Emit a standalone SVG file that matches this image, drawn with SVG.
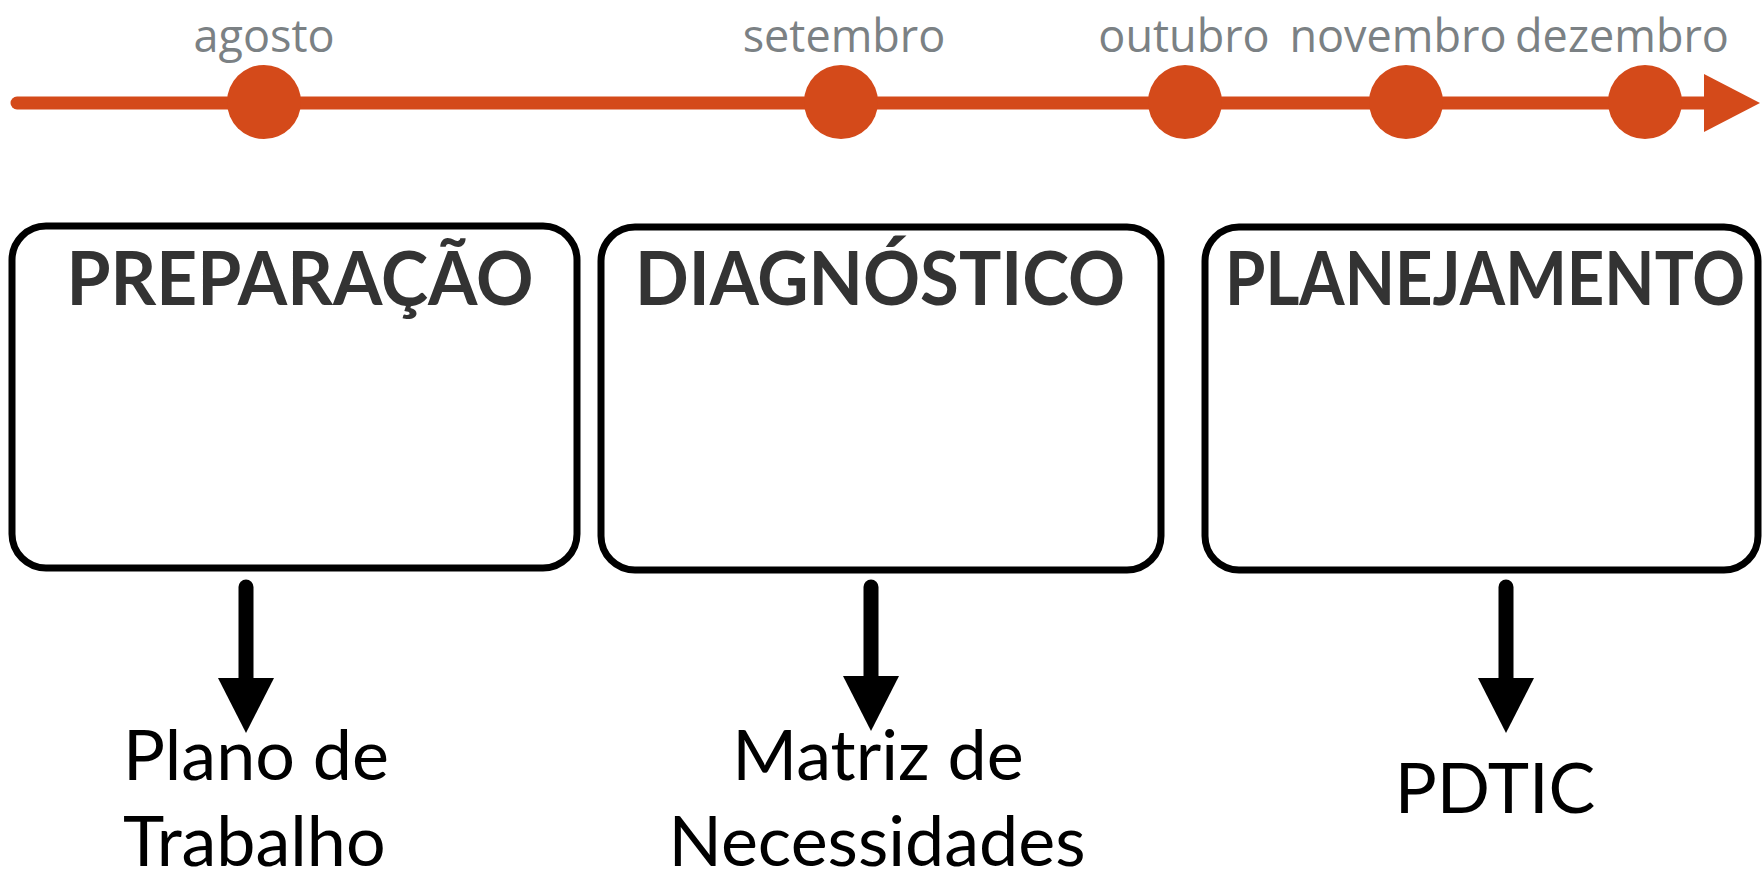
<svg xmlns="http://www.w3.org/2000/svg" width="1762" height="874" viewBox="0 0 1762 874">
<style>
.month{font-family:"Open Sans","Liberation Sans",sans-serif;font-size:45px;fill:#7b8184;text-anchor:middle}
.dot{fill:#D44A1A}
.box{fill:#fff;stroke:#000;stroke-width:7}
.title{font-family:Lato,"Liberation Sans",sans-serif;font-weight:bold;font-size:74px;fill:#333;text-anchor:middle}
.out{font-family:Lato,"Liberation Sans",sans-serif;font-size:70px;fill:#000}
.conn{stroke:#000;stroke-width:15;stroke-linecap:round;fill:none}
.tl{stroke:#D44A1A;stroke-width:13;stroke-linecap:round;fill:none}
</style>
<defs>
<marker id="ah" viewBox="0 0 55 56" refX="0" refY="28" markerWidth="55" markerHeight="56" markerUnits="userSpaceOnUse" orient="auto">
<path d="M0,0 L55,28 L0,56 z" fill="#000"/>
</marker>
<marker id="ahTl" viewBox="0 0 56 58" refX="0" refY="29" markerWidth="56" markerHeight="58" markerUnits="userSpaceOnUse" orient="auto">
<path d="M0,0 L56,29 L0,58 z" fill="#D44A1A"/>
</marker>
</defs>
<rect width="1762" height="874" fill="#fff"/>
<g id="timeline">
<path class="tl" d="M17,103 L1704,103" marker-end="url(#ahTl)"/>
</g>
<g id="m-agosto"><circle class="dot" cx="264" cy="102" r="37"/><text class="month" x="264" y="52">agosto</text></g>
<g id="m-setembro"><circle class="dot" cx="841" cy="102" r="37"/><text class="month" x="844" y="52">setembro</text></g>
<g id="m-outubro"><circle class="dot" cx="1185" cy="102" r="37"/><text class="month" x="1184" y="52">outubro</text></g>
<g id="m-novembro"><circle class="dot" cx="1406" cy="102" r="37"/><text class="month" x="1398" y="52">novembro</text></g>
<g id="m-dezembro"><circle class="dot" cx="1645" cy="102" r="37"/><text class="month" x="1622" y="52">dezembro</text></g>
<g id="preparacao"><rect class="box" x="12" y="226" width="565" height="342" rx="34"/><text class="title" x="300" y="305" textLength="467" lengthAdjust="spacingAndGlyphs">PREPARAÇÃO</text></g>
<g id="diagnostico"><rect class="box" x="601" y="227" width="560" height="343" rx="34"/><text class="title" x="880" y="305" textLength="490" lengthAdjust="spacingAndGlyphs">DIAGNÓSTICO</text></g>
<g id="planejamento"><rect class="box" x="1205" y="227" width="553" height="343" rx="34"/><text class="title" x="1485" y="305" textLength="520" lengthAdjust="spacingAndGlyphs">PLANEJAMENTO</text></g>
<g id="connectors">
<path class="conn" d="M246,587 L246,678" marker-end="url(#ah)"/>
<path class="conn" d="M871,587 L871,676" marker-end="url(#ah)"/>
<path class="conn" d="M1506,587 L1506,678" marker-end="url(#ah)"/>
</g>
<g id="plano"><text class="out" x="123" y="780">Plano de</text><text class="out" x="123" y="866">Trabalho</text></g>
<g id="matriz"><text class="out" x="878" y="780" text-anchor="middle">Matriz de</text><text class="out" x="877" y="866" text-anchor="middle">Necessidades</text></g>
<g id="pdtic"><text class="out" x="1495" y="813" text-anchor="middle">PDTIC</text></g>
</svg>
